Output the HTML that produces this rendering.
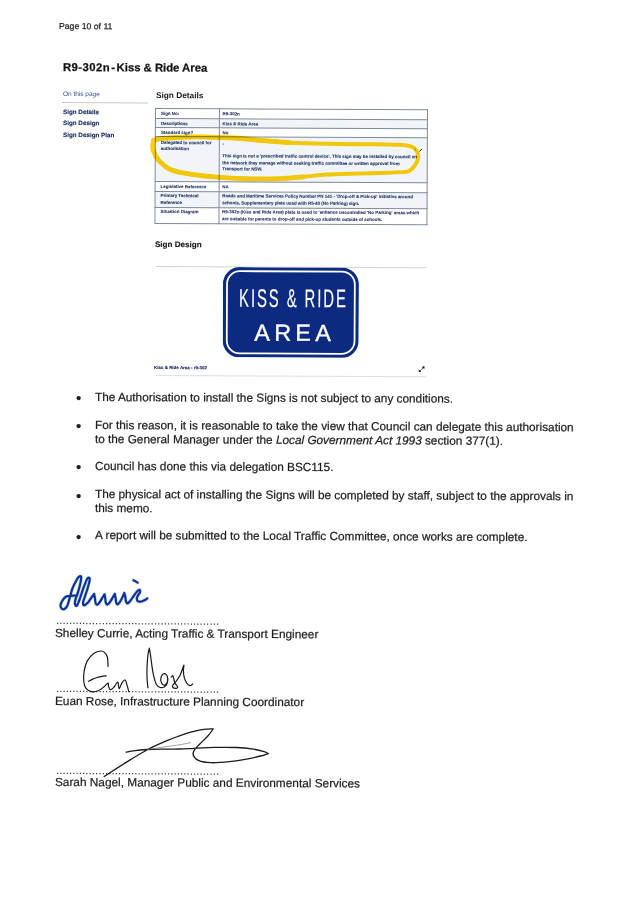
<!DOCTYPE html>
<html lang="en">
<head>
<meta charset="utf-8">
<title>R9-302n - Kiss &amp; Ride Area</title>
<style>
html,body{margin:0;padding:0;background:#fff;}
body{width:637px;height:901px;position:relative;overflow:hidden;font-family:"Liberation Sans",Arial,sans-serif;color:#111;}
.abs{position:absolute;white-space:nowrap;transform:rotate(0.27deg);transform-origin:0 0;}
.norot{transform:none;}
.pg{left:58.5px;top:20.5px;font-size:8.7px;color:#222;}
.title{left:63px;top:61.3px;font-size:11.3px;font-weight:bold;color:#111;-webkit-text-stroke:0.25px #111;}
.otp{left:62.5px;top:89.9px;font-size:6.5px;color:#2f4f82;}
.navline{left:62px;top:101.5px;width:86px;height:1px;background:#c9c9c9;}
.nav{left:62.5px;font-size:6.3px;font-weight:bold;color:#13285a;-webkit-text-stroke:0.12px #13285a;margin-top:-0.2px;}
.h2{left:155.5px;font-size:8.3px;font-weight:bold;color:#1a1a1a;}
.body{font-size:11.81px;color:#1c1c1c;line-height:13.5px;}
.body,.name,.pg,.bul{-webkit-text-stroke:0.22px #222;}
.bul{left:76.4px;font-size:15px;line-height:13.5px;margin-top:0.2px;color:#1c1c1c;}
.name{left:55.3px;font-size:11.83px;line-height:13.5px;color:#1c1c1c;}
.dots{left:56.2px;font-size:11.75px;line-height:13.5px;color:#333;}
table.t{transform:rotate(0.27deg);transform-origin:0 0;position:absolute;left:155px;top:108px;width:273px;border-collapse:collapse;font-size:4.45px;color:#1a2a5c;font-weight:bold;table-layout:fixed;-webkit-text-stroke:0.08px #1a2a5c;}
table.t td{border:1px solid #7f8a9c;padding:1.4px 0 0 5px;vertical-align:top;line-height:6.6px;}
table.t td.l{width:58px;}
table.t td+td{padding-left:2.6px;}
table.t td span{position:relative;top:0.8px;display:block;}
table.t tr.r4 td span{top:1.3px;}
table.t tr.r4 td+td span{top:2.2px;line-height:6.4px;}
table.t tr.r6 td span{top:0px;line-height:6.4px;}
table.t tr.z td{background:#f1f4f8;}
</style>
</head>
<body>
<div class="abs pg">Page 10 of 11</div>
<div class="abs title"><span style="letter-spacing:0.45px">R9-302n</span><span style="margin:0 -1.6px 0 -1.9px"> - </span>Kiss &amp; Ride Area</div>
<div class="abs otp">On this page</div>
<div class="abs navline"></div>
<div class="abs nav" style="top:108px">Sign Details</div>
<div class="abs nav" style="top:119.5px">Sign Design</div>
<div class="abs nav" style="top:131.5px">Sign Design Plan</div>
<div class="abs h2" style="top:90px">Sign Details</div>

<table class="t">
<tr style="height:10px"><td class="l"><span>Sign No:</span></td><td><span>R9-302n</span></td></tr>
<tr class="z" style="height:9px"><td class="l"><span>Descriptions</span></td><td><span>Kiss &amp; Ride Area</span></td></tr>
<tr style="height:9px"><td class="l"><span>Standard sign?</span></td><td><span>No</span></td></tr>
<tr class="z r4" style="height:45px"><td class="l"><span>Delegated to council for<br>authorisation</span></td><td><span>-<br><br>This sign is not a 'prescribed traffic control device'. This sign may be installed by council on<br>the network they manage without seeking traffic committee or written approval from<br>Transport for NSW.</span></td></tr>
<tr style="height:10px"><td class="l"><span>Legislative Reference</span></td><td><span>NA</span></td></tr>
<tr class="z r6" style="height:16px"><td class="l"><span>Primary Technical<br>Reference</span></td><td><span>Roads and Maritime Services Policy Number PN 141 - 'Drop-off &amp; Pick-up' initiative around<br>schools. Supplementary plate used with R5-40 (No Parking) sign.</span></td></tr>
<tr class="r6" style="height:16px"><td class="l"><span>Situation Diagram</span></td><td><span>R9-302n (Kiss and Ride Area) plate is used to 'enhance uncontrolled 'No Parking' areas which<br>are suitable for parents to drop-off and pick-up students outside of schools.</span></td></tr>
</table>

<div class="abs h2" style="left:154.8px;top:239.5px;font-size:8.1px;-webkit-text-stroke:0.15px #1a1a1a">Sign Design</div>


<div class="abs bul" style="top:391.0px">&bull;</div>
<div class="abs body" style="left:95.2px;top:391.0px">The Authorisation to install the Signs is not subject to any conditions.</div>
<div class="abs bul" style="top:418.9px">&bull;</div>
<div class="abs body" style="left:95.2px;top:418.9px">For this reason, it is reasonable to take the view that Council can delegate this authorisation<br>to the General Manager under the <i>Local Government Act 1993</i> section 377(1).</div>
<div class="abs bul" style="top:460.1px">&bull;</div>
<div class="abs body" style="left:95.2px;top:460.1px">Council has done this via delegation BSC115.</div>
<div class="abs bul" style="top:488.4px">&bull;</div>
<div class="abs body" style="left:95.2px;top:488.4px">The physical act of installing the Signs will be completed by staff, subject to the approvals in<br>this memo.</div>
<div class="abs bul" style="top:529.4px">&bull;</div>
<div class="abs body" style="left:95.2px;top:529.4px">A report will be submitted to the Local Traffic Committee, once works are complete.</div>


<div class="abs" style="left:155.5px;top:266px;width:271px;height:1px;background:#d4d4d4"></div>
<svg class="abs" style="left:222.5px;top:266.5px" width="136" height="90.4" viewBox="0 0 136 90.4">
<rect x="0" y="0" width="136" height="90.4" rx="17" ry="17" fill="#0b2a80"/>
<rect x="4.1" y="4.1" width="127.8" height="82.2" rx="12.9" ry="12.9" fill="none" stroke="#fff" stroke-width="1.8"/>
<text transform="translate(16.3,39.8) scale(0.58,1)" font-family="'Liberation Sans',Arial,sans-serif" font-size="25.6" fill="#fff" stroke="#fff" stroke-width="0.15" textLength="184" lengthAdjust="spacing">KISS &amp; RIDE</text>
<text x="31.6" y="73.5" font-family="'Liberation Sans',Arial,sans-serif" font-size="23.4" fill="#fff" stroke="#fff" stroke-width="0.35" textLength="76.6" lengthAdjust="spacing">AREA</text>
</svg>
<div class="abs" style="left:154.3px;top:365px;font-size:4.48px;color:#14245a;font-weight:bold;-webkit-text-stroke:0.1px #14245a">Kiss &amp; Ride Area - r9-302</div>
<svg class="abs norot" style="left:416px;top:364px" width="12" height="12" viewBox="416 364 12 12"><path d="M419.8 371L423.4 367.5" stroke="#111" stroke-width="0.7" fill="none"/><path d="M418.9 371.9L419.2 369.9L420.9 371.6Z M424.3 366.6L422.3 366.9L424 368.6Z" fill="#111" stroke="#111" stroke-width="0.5" stroke-linejoin="round"/></svg>
<div class="abs" style="left:155.5px;top:375px;width:270px;height:1px;background:#dedee4"></div>

<svg class="abs norot" style="left:140px;top:125px;mix-blend-mode:multiply" width="300" height="70" viewBox="140 125 300 70">
<path d="M153.6 140.2C154.8 139.9 157.4 139.0 161.0 138.6C164.6 138.2 168.7 137.8 175.0 137.5C181.3 137.2 189.2 136.7 199.0 136.8C208.8 136.9 223.5 137.4 234.0 138.0C244.5 138.6 252.7 139.7 262.0 140.5C271.3 141.3 279.2 142.1 290.0 142.7C300.8 143.2 313.0 143.5 327.0 143.8C341.0 144.1 362.2 144.2 374.0 144.3C385.8 144.5 392.5 144.5 397.7 144.7C402.9 144.8 402.9 144.9 405.0 145.2C407.1 145.4 408.5 145.7 410.0 146.2C411.5 146.7 412.9 147.1 414.1 148.0C415.3 148.9 416.3 150.2 417.0 151.5C417.7 152.8 418.1 154.4 418.2 156.0C418.2 157.6 417.9 159.3 417.3 161.0C416.7 162.7 415.6 164.5 414.5 166.0C413.4 167.5 411.9 169.0 410.5 170.0C409.1 171.0 409.4 171.5 405.8 171.9C402.2 172.3 394.8 172.5 388.8 172.7C382.8 172.9 376.5 173.1 370.0 173.3C363.5 173.5 357.2 173.6 350.0 173.8C342.8 174.0 334.8 174.0 327.0 174.5C319.2 175.0 311.3 176.1 303.5 176.8C295.7 177.5 288.9 178.3 280.0 178.6C271.1 178.9 260.0 179.0 250.0 178.8C240.0 178.6 229.7 178.1 220.0 177.4C210.3 176.7 200.0 175.7 191.8 174.4C183.6 173.1 176.5 172.0 171.0 169.7C165.5 167.3 161.6 163.4 158.7 160.3C155.8 157.2 154.4 153.6 153.4 151.0C152.4 148.4 152.7 146.8 152.8 145.0C152.9 143.2 153.6 141.1 153.8 140.3" fill="none" stroke="#ffd00a" stroke-width="3.9" stroke-linecap="round" stroke-linejoin="round"/>
<path d="M153.6 140.2C154.8 139.9 157.4 139.0 161.0 138.6C164.6 138.2 168.7 137.8 175.0 137.5C181.3 137.2 189.2 136.7 199.0 136.8C208.8 136.9 223.5 137.4 234.0 138.0C244.5 138.6 252.7 139.7 262.0 140.5C271.3 141.3 285.3 142.3 290.0 142.7" fill="none" stroke="#ffd00a" stroke-width="4.8" stroke-linecap="round"/>
<path d="M303.5 176.8C299.6 177.1 288.9 178.3 280.0 178.6C271.1 178.9 260.0 179.0 250.0 178.8C240.0 178.6 229.7 178.1 220.0 177.4C210.3 176.7 200.0 175.7 191.8 174.4C183.6 173.1 176.5 172.0 171.0 169.7C165.5 167.3 161.6 163.4 158.7 160.3C155.8 157.2 154.4 153.6 153.4 151.0C152.4 148.4 152.7 146.8 152.8 145.0C152.9 143.2 153.6 141.1 153.8 140.3" fill="none" stroke="#ffd00a" stroke-width="4.8" stroke-linecap="round"/>
<rect x="414.1" y="148.2" width="2" height="2.5" fill="#cfae14"/>
<path d="M419.3 151.4 L422 149.2" stroke="#333" stroke-width="1" fill="none"/>
</svg>
<div class="abs dots" style="top:612.9px">..................................................</div>
<div class="abs name" style="top:626.8px">Shelley Currie, Acting Traffic &amp; Transport Engineer</div>
<div class="abs dots" style="top:681.4px">..................................................</div>
<div class="abs name" style="top:694.9px">Euan Rose, Infrastructure Planning Coordinator</div>
<div class="abs dots" style="top:762.5px">..................................................</div>
<div class="abs name" style="top:776.1px">Sarah Nagel, Manager Public and Environmental Services</div>

<svg class="abs norot" id="sig1" style="left:50px;top:565px" width="120" height="60" viewBox="50 565 120 60">
<g fill="none" stroke-linecap="round" stroke-linejoin="round">
<path d="M75.2 595.5C74.3 595.6 71.7 595.7 70.1 595.9C68.5 596.1 67.1 595.9 65.8 596.7C64.5 597.5 63.4 599.1 62.5 600.5C61.6 601.9 60.6 603.9 60.5 605.2C60.4 606.5 61.0 607.9 61.6 608.5C62.2 609.1 63.5 609.4 64.4 609.0C65.3 608.6 66.4 607.6 67.2 606.1C68.0 604.6 68.2 602.9 69.1 600.0C70.0 597.1 71.1 592.1 72.4 588.7C73.7 585.3 75.5 581.9 76.7 579.8C77.9 577.7 79.0 576.7 79.7 576.3C80.5 575.9 81.2 576.0 81.2 577.4C81.2 578.8 80.6 582.2 80.0 584.9C79.4 587.6 78.4 590.8 77.6 593.4C76.8 596.0 75.6 598.6 75.2 600.5C74.8 602.4 74.8 603.6 75.1 604.5C75.4 605.4 76.1 606.3 76.8 605.7C77.5 605.1 77.9 603.8 79.0 601.0C80.1 598.2 81.9 592.3 83.2 588.7C84.5 585.1 86.0 581.1 87.0 579.3C88.0 577.5 88.5 577.6 88.9 577.7C89.4 577.8 89.9 578.0 89.7 579.8C89.5 581.6 88.3 585.8 87.5 588.7C86.7 591.6 85.4 594.9 84.7 597.2C84.0 599.5 83.2 601.0 83.1 602.4C83.0 603.8 83.2 605.3 84.0 605.3C84.8 605.3 86.8 603.8 88.0 602.5C89.2 601.2 90.5 598.9 91.5 597.5C92.5 596.1 93.7 594.6 94.1 594.0C94.2 594.8 94.8 597.0 95.0 598.5C95.2 600.0 95.2 601.8 95.5 602.8C95.8 603.8 96.3 604.8 97.0 604.8C97.7 604.8 98.6 603.7 99.5 602.5C100.4 601.3 101.7 598.9 102.5 597.5C103.3 596.1 104.2 594.8 104.5 594.3C104.6 595.0 105.1 597.1 105.3 598.5C105.5 599.9 105.5 601.8 105.8 602.8C106.1 603.8 106.6 604.8 107.3 604.7C108.0 604.6 109.0 603.3 110.0 602.0C111.0 600.7 112.2 598.3 113.0 597.0C113.8 595.7 114.5 594.5 114.8 594.0C114.9 594.7 115.4 596.6 115.6 598.0C115.8 599.4 115.8 601.4 116.2 602.5C116.6 603.6 117.0 604.6 117.7 604.4C118.4 604.2 119.4 602.8 120.2 601.5C121.0 600.2 122.1 597.9 122.8 596.5C123.5 595.1 124.0 593.6 124.3 593.0C124.5 593.7 125.0 595.6 125.3 597.0C125.6 598.4 125.6 600.4 126.0 601.5C126.4 602.6 126.8 603.6 127.6 603.4C128.3 603.2 129.4 601.8 130.5 600.5C131.6 599.2 132.8 597.1 134.0 595.5C135.2 593.9 136.6 592.0 137.5 591.0C138.4 590.0 139.2 589.6 139.6 589.8C140.0 590.0 140.3 591.2 140.0 592.2C139.7 593.2 138.5 594.4 138.0 595.5C137.5 596.6 136.8 597.6 136.8 598.6C136.8 599.6 137.2 600.9 138.0 601.4C138.8 601.9 140.3 601.7 141.5 601.5C142.7 601.3 144.0 600.5 145.0 600.0C146.0 599.5 146.9 598.7 147.3 598.4" stroke="#9db7e8" stroke-width="3.6" opacity="0.5"/>
<path d="M133.4 580.2L137.7 582.6" stroke="#9db7e8" stroke-width="3" opacity="0.55"/>
<path d="M75.2 595.5C74.3 595.6 71.7 595.7 70.1 595.9C68.5 596.1 67.1 595.9 65.8 596.7C64.5 597.5 63.4 599.1 62.5 600.5C61.6 601.9 60.6 603.9 60.5 605.2C60.4 606.5 61.0 607.9 61.6 608.5C62.2 609.1 63.5 609.4 64.4 609.0C65.3 608.6 66.4 607.6 67.2 606.1C68.0 604.6 68.2 602.9 69.1 600.0C70.0 597.1 71.1 592.1 72.4 588.7C73.7 585.3 75.5 581.9 76.7 579.8C77.9 577.7 79.0 576.7 79.7 576.3C80.5 575.9 81.2 576.0 81.2 577.4C81.2 578.8 80.6 582.2 80.0 584.9C79.4 587.6 78.4 590.8 77.6 593.4C76.8 596.0 75.6 598.6 75.2 600.5C74.8 602.4 74.8 603.6 75.1 604.5C75.4 605.4 76.1 606.3 76.8 605.7C77.5 605.1 77.9 603.8 79.0 601.0C80.1 598.2 81.9 592.3 83.2 588.7C84.5 585.1 86.0 581.1 87.0 579.3C88.0 577.5 88.5 577.6 88.9 577.7C89.4 577.8 89.9 578.0 89.7 579.8C89.5 581.6 88.3 585.8 87.5 588.7C86.7 591.6 85.4 594.9 84.7 597.2C84.0 599.5 83.2 601.0 83.1 602.4C83.0 603.8 83.2 605.3 84.0 605.3C84.8 605.3 86.8 603.8 88.0 602.5C89.2 601.2 90.5 598.9 91.5 597.5C92.5 596.1 93.7 594.6 94.1 594.0C94.2 594.8 94.8 597.0 95.0 598.5C95.2 600.0 95.2 601.8 95.5 602.8C95.8 603.8 96.3 604.8 97.0 604.8C97.7 604.8 98.6 603.7 99.5 602.5C100.4 601.3 101.7 598.9 102.5 597.5C103.3 596.1 104.2 594.8 104.5 594.3C104.6 595.0 105.1 597.1 105.3 598.5C105.5 599.9 105.5 601.8 105.8 602.8C106.1 603.8 106.6 604.8 107.3 604.7C108.0 604.6 109.0 603.3 110.0 602.0C111.0 600.7 112.2 598.3 113.0 597.0C113.8 595.7 114.5 594.5 114.8 594.0C114.9 594.7 115.4 596.6 115.6 598.0C115.8 599.4 115.8 601.4 116.2 602.5C116.6 603.6 117.0 604.6 117.7 604.4C118.4 604.2 119.4 602.8 120.2 601.5C121.0 600.2 122.1 597.9 122.8 596.5C123.5 595.1 124.0 593.6 124.3 593.0C124.5 593.7 125.0 595.6 125.3 597.0C125.6 598.4 125.6 600.4 126.0 601.5C126.4 602.6 126.8 603.6 127.6 603.4C128.3 603.2 129.4 601.8 130.5 600.5C131.6 599.2 132.8 597.1 134.0 595.5C135.2 593.9 136.6 592.0 137.5 591.0C138.4 590.0 139.2 589.6 139.6 589.8C140.0 590.0 140.3 591.2 140.0 592.2C139.7 593.2 138.5 594.4 138.0 595.5C137.5 596.6 136.8 597.6 136.8 598.6C136.8 599.6 137.2 600.9 138.0 601.4C138.8 601.9 140.3 601.7 141.5 601.5C142.7 601.3 144.0 600.5 145.0 600.0C146.0 599.5 146.9 598.7 147.3 598.4" stroke="#0b3492" stroke-width="2.2"/>
<path d="M133.4 580.2L137.7 582.6" stroke="#0b3492" stroke-width="2.2"/>
</g></svg>

<svg class="abs norot" id="sig2" style="left:50px;top:640px" width="180" height="60" viewBox="50 640 180 60">
<g fill="none" stroke="#1a1a1a" stroke-width="1.2" stroke-linecap="round" stroke-linejoin="round">
<path d="M108.0 666.4C107.9 664.9 108.0 659.9 107.5 657.6C107.0 655.3 105.8 653.7 104.7 652.6C103.6 651.5 102.6 650.9 100.8 651.0C99.0 651.1 96.0 651.8 93.7 653.4C91.5 655.0 88.9 658.0 87.3 660.9C85.7 663.8 84.8 667.3 84.2 670.8C83.6 674.3 83.5 678.9 83.8 681.8C84.1 684.7 84.7 686.8 86.0 688.4C87.3 690.0 89.5 691.2 91.5 691.6C93.5 692.0 96.0 691.6 98.1 690.8C100.2 690.0 102.4 688.0 104.1 686.7C105.8 685.4 107.2 683.1 108.0 683.1C108.8 683.1 108.1 685.6 108.6 686.7C109.0 687.8 109.8 689.7 110.7 689.7C111.6 689.8 112.8 688.3 114.0 687.0C115.2 685.7 116.8 682.2 117.6 682.0C118.3 681.8 118.2 684.5 118.5 685.6C118.8 686.7 118.9 689.0 119.4 688.6C119.9 688.2 120.9 684.8 121.7 683.4C122.5 682.0 123.4 680.6 124.1 680.2C124.8 679.8 125.3 679.9 125.8 680.9C126.3 681.9 126.8 684.4 127.3 686.2C127.8 688.0 128.6 690.7 128.8 691.6"/><path d="M88.7 681.3C89.3 680.9 91.2 679.7 92.6 679.1C94.0 678.5 95.5 678.0 97.0 677.5C98.5 677.0 100.4 676.7 101.9 676.4C103.5 676.1 105.6 675.9 106.3 675.8"/><path d="M148.0 687.8C147.9 686.8 147.5 684.3 147.3 681.8C147.1 679.3 146.9 676.3 146.9 673.0C146.9 669.7 147.1 665.3 147.3 662.0C147.5 658.7 147.9 655.5 148.2 653.2C148.5 650.9 149.1 649.0 149.3 648.2C149.5 649.2 150.0 651.6 150.4 654.3C150.8 657.0 151.2 660.7 151.7 664.2C152.2 667.7 152.7 671.8 153.5 675.2C154.3 678.6 155.3 682.5 156.4 684.5C157.5 686.5 159.0 687.1 160.3 687.5C161.6 687.9 163.0 687.6 164.1 687.0C165.2 686.4 166.3 685.4 166.9 684.0C167.5 682.6 167.8 680.1 167.7 678.5C167.6 676.9 167.0 675.4 166.3 674.6C165.6 673.8 164.4 673.4 163.6 673.8C162.8 674.2 161.6 675.6 161.2 676.8C160.8 678.0 160.6 679.9 160.9 681.2C161.2 682.5 162.1 684.3 163.0 684.8C163.9 685.3 165.5 684.9 166.3 684.0C167.1 683.1 167.7 680.3 168.0 679.6"/><path d="M171.3 677.1C171.6 676.9 172.5 675.5 172.9 675.7C173.3 675.9 173.4 677.3 173.7 678.5C174.0 679.7 174.2 681.5 174.8 682.9C175.5 684.3 177.4 685.8 177.6 686.7C177.8 687.6 177.0 688.3 176.2 688.4C175.4 688.5 173.4 688.0 172.9 687.5C172.4 687.0 172.4 686.1 172.9 685.1C173.4 684.1 175.0 682.9 176.2 681.2C177.4 679.6 179.0 677.4 180.1 675.2C181.2 673.0 182.2 669.6 182.8 668.0C183.4 666.4 183.8 664.8 183.9 665.3C184.0 665.8 183.4 668.8 183.4 670.8C183.4 672.8 183.7 675.4 184.2 677.4C184.7 679.4 185.6 681.5 186.6 682.9C187.6 684.3 188.9 685.4 189.9 685.6C190.9 685.8 192.2 684.3 192.7 684.0"/>
</g></svg>

<svg class="abs norot" id="sig3" style="left:90px;top:720px" width="190" height="65" viewBox="90 720 190 65">
<g fill="none" stroke="#1a1a1a" stroke-width="1.3" stroke-linecap="round" stroke-linejoin="round">
<path d="M104.2 776.5C107.8 774.1 118.9 766.9 126.1 762.4C133.3 757.9 140.7 753.2 147.3 749.7C153.9 746.2 159.3 743.9 165.6 741.2C171.9 738.6 180.2 735.4 185.0 733.8C189.8 732.1 190.9 732.0 194.1 731.3C197.3 730.6 200.8 729.8 204.0 729.4C207.2 729.0 211.7 728.9 213.2 728.8C212.4 729.9 210.5 733.0 208.3 735.5C206.1 738.0 202.1 741.6 199.8 744.0C197.5 746.4 195.7 747.9 194.6 749.7C193.5 751.5 192.6 753.2 193.2 755.0C193.8 756.8 195.4 759.0 198.4 760.3C201.4 761.6 205.9 762.5 211.1 762.7C216.3 762.9 223.4 762.3 229.5 761.7C235.6 761.1 242.6 759.9 247.8 758.9C253.0 757.9 257.1 756.9 260.5 756.0C263.9 755.1 267.0 754.0 268.3 753.6C267.7 753.3 267.3 752.5 264.8 751.8C262.3 751.1 258.2 749.9 253.5 749.2C248.8 748.5 242.9 747.8 236.5 747.5C230.1 747.2 222.4 747.3 215.3 747.4C208.2 747.5 200.0 748.0 194.1 748.3C188.2 748.6 184.8 748.9 180.0 749.0C175.2 749.1 171.0 749.0 165.6 749.1C160.2 749.2 152.4 749.2 147.3 749.5C142.2 749.8 138.5 750.1 135.0 750.6C131.5 751.1 127.6 751.9 126.1 752.2"/><path d="M147.3 749.4C150.2 749.0 159.6 747.6 165.0 746.8C170.4 746.0 175.7 745.4 180.0 744.7C184.3 744.0 188.8 743.0 190.6 742.6" stroke="#777" stroke-width="0.7"/>
</g></svg>
</body>
</html>
